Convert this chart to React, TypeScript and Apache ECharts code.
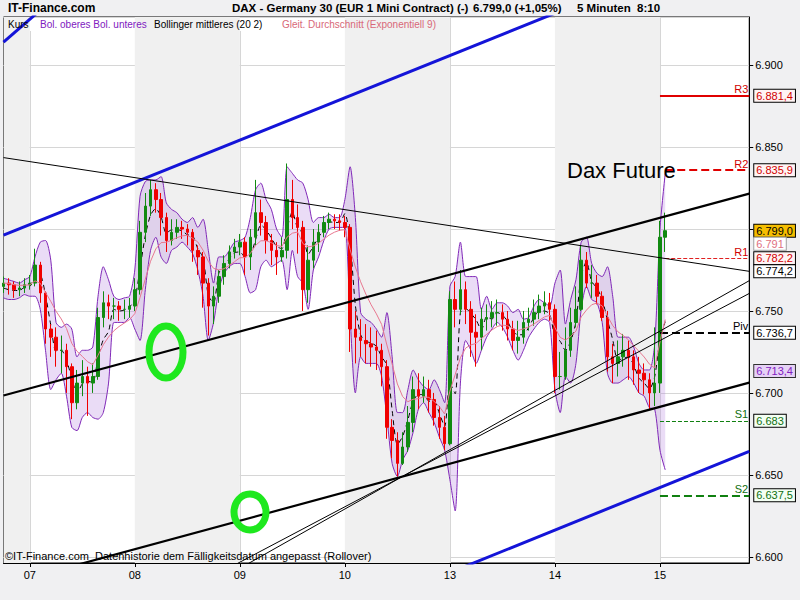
import React, { useEffect, useRef } from 'react';
import * as echarts from 'echarts';

// ---------- data ----------
const DAY_LABELS = ['07', '08', '09', '10', '13', '14', '15'];
const SHADED_DAYS = ['08', '10', '14'];
const N_SLOTS = 143;
const FIRST_DAY_SLOT = 5;
const SLOTS_PER_DAY = 20;
const FIRST_OPEN = 6765;

const CLOSES = [
  6767, 6766, 6763, 6764, 6766, 6767, 6778, 6761, 6739, 6734,
  6726, 6726, 6716, 6694, 6706, 6710, 6706, 6710, 6746, 6755,
  6753, 6753, 6751, 6751, 6753, 6763, 6798, 6814, 6824, 6818,
  6807, 6793, 6798, 6801, 6800, 6798, 6787, 6783, 6767, 6753,
  6759, 6771, 6779, 6786, 6789, 6792, 6783, 6795, 6810, 6804,
  6793, 6787, 6783, 6787, 6818, 6807, 6801, 6763, 6781, 6792,
  6798, 6804, 6806, 6805, 6804, 6801, 6739, 6734, 6732, 6730,
  6728, 6726, 6716, 6679, 6671, 6657, 6667, 6682, 6702, 6698,
  6702, 6696, 6685, 6679, 6669, 6757, 6751, 6763, 6751, 6737,
  6734, 6745, 6746, 6749, 6749, 6745, 6739, 6732, 6734, 6743,
  6745, 6749, 6753, 6755, 6751, 6710, 6710, 6726, 6743, 6751,
  6781, 6767, 6767, 6759, 6746, 6722, 6718, 6722, 6726, 6722,
  6714, 6712, 6708, 6700, 6706, 6795, 6799,
];
const HIGHS = [
  6771, 6770, 6768, 6768, 6770, 6772, 6788, 6780, 6762, 6742,
  6740, 6735, 6730, 6718, 6714, 6720, 6716, 6718, 6752, 6762,
  6760, 6758, 6756, 6757, 6758, 6770, 6805, 6822, 6830, 6828,
  6822, 6810, 6806, 6806, 6805, 6803, 6800, 6790, 6786, 6770,
  6765, 6775, 6784, 6790, 6794, 6797, 6795, 6800, 6830, 6818,
  6808, 6797, 6792, 6795, 6840, 6830, 6815, 6805, 6790, 6800,
  6803, 6808, 6810, 6809, 6809, 6808, 6803, 6750, 6745, 6742,
  6740, 6738, 6730, 6720, 6684, 6676, 6676, 6692, 6710, 6712,
  6710, 6708, 6700, 6692, 6686, 6762, 6768, 6775, 6768, 6756,
  6748, 6752, 6754, 6756, 6757, 6754, 6750, 6744, 6744, 6750,
  6752, 6757, 6760, 6762, 6761, 6754, 6725, 6740, 6752, 6765,
  6790, 6786, 6778, 6772, 6762, 6750, 6730, 6732, 6736, 6732,
  6726, 6722, 6718, 6712, 6740, 6805, 6810,
];
const LOWS = [
  6761, 6760, 6758, 6759, 6761, 6763, 6765, 6755, 6730, 6722,
  6716, 6712, 6700, 6684, 6690, 6698, 6686, 6700, 6708, 6740,
  6745, 6745, 6744, 6745, 6746, 6750, 6760, 6792, 6808, 6810,
  6796, 6786, 6790, 6794, 6794, 6790, 6780, 6772, 6752, 6735,
  6742, 6755, 6766, 6776, 6782, 6784, 6772, 6775, 6790, 6796,
  6785, 6778, 6772, 6780, 6782, 6800, 6785, 6750, 6755, 6776,
  6786, 6795, 6800, 6800, 6799, 6795, 6725, 6718, 6722, 6718,
  6716, 6714, 6704, 6672, 6660, 6649, 6656, 6664, 6676, 6690,
  6694, 6688, 6680, 6672, 6665, 6668, 6740, 6748, 6742, 6722,
  6716, 6726, 6738, 6740, 6741, 6738, 6732, 6726, 6724, 6730,
  6738, 6741, 6745, 6748, 6744, 6700, 6702, 6708, 6722, 6740,
  6750, 6764, 6758, 6754, 6744, 6713, 6706, 6710, 6716, 6708,
  6705, 6700, 6699, 6690, 6692, 6700, 6786,
];
const BB_UPPER = [
  6770, 6769, 6768, 6767, 6769, 6771, 6783, 6792, 6793, 6781,
  6743, 6740, 6742, 6739, 6722, 6726, 6726, 6728, 6759, 6777,
  6769, 6759, 6757, 6758, 6759, 6775, 6820, 6829, 6830, 6830,
  6832, 6816, 6812, 6810, 6806, 6804, 6807, 6801, 6806, 6787,
  6767, 6783, 6783, 6787, 6792, 6793, 6795, 6807, 6824, 6828,
  6818, 6812, 6800, 6795, 6838, 6834, 6830, 6828, 6818, 6804,
  6807, 6807, 6809, 6807, 6807, 6818, 6838, 6807, 6749, 6745,
  6743, 6739, 6734, 6749, 6722, 6688, 6688, 6702, 6714, 6708,
  6704, 6702, 6708, 6702, 6694, 6765, 6771, 6792, 6771, 6771,
  6771, 6751, 6759, 6751, 6755, 6755, 6753, 6749, 6751, 6745,
  6746, 6753, 6757, 6755, 6753, 6767, 6775, 6742, 6757, 6769,
  6792, 6795, 6779, 6773, 6771, 6777, 6759, 6734, 6734, 6734,
  6728, 6718, 6714, 6714, 6730, 6800, 6834,
];
const BB_LOWER = [
  6758, 6757, 6757, 6758, 6760, 6759, 6759, 6751, 6726, 6702,
  6708, 6712, 6698, 6679, 6677, 6685, 6688, 6685, 6684, 6688,
  6706, 6743, 6743, 6743, 6746, 6739, 6732, 6763, 6787, 6795,
  6783, 6779, 6787, 6789, 6792, 6789, 6785, 6775, 6759, 6732,
  6743, 6763, 6773, 6777, 6779, 6779, 6771, 6761, 6763, 6777,
  6781, 6777, 6779, 6781, 6763, 6787, 6771, 6767, 6751, 6775,
  6783, 6793, 6800, 6801, 6801, 6801, 6746, 6700, 6722, 6718,
  6718, 6718, 6710, 6685, 6657, 6649, 6659, 6665, 6676, 6690,
  6694, 6688, 6682, 6673, 6665, 6647, 6628, 6706, 6732, 6726,
  6718, 6726, 6734, 6739, 6743, 6740, 6734, 6726, 6720, 6726,
  6734, 6739, 6743, 6745, 6743, 6702, 6688, 6710, 6706, 6718,
  6751, 6765, 6757, 6755, 6743, 6712, 6706, 6706, 6708, 6710,
  6706, 6700, 6698, 6691, 6690, 6665, 6653,
];

// drawn trend lines: [slot, value] endpoints
const TREND_FROM = [[0, 6796.3], [0, 6914.1], [0, 6480.1], [0, 6843.6], [0, 6698.4], [0, 6582.9], [0, 6511.5], [0, 6520.6]];
const TREND_TO = [[142, 6979.4], [10, 6941.9], [142, 6664.3], [142, 6774.2], [142, 6821.6], [142, 6706.3], [142, 6768.5], [142, 6760.7]];
const TREND_COLORS = ['#1414D8', '#1414D8', '#1414D8', '#000000', '#000000', '#000000', '#000000', '#000000'];
const TREND_WIDTHS = [3, 3, 3, 1, 2.2, 2.2, 1, 1];

const PIVOT_NAMES = ['R3', 'R2', 'R1', 'Piv', 'S1', 'S2'];
const PIVOT_VALUES = [6881.4, 6835.9, 6782.2, 6736.7, 6683, 6637.5];
const PIVOT_LABELS = ['6.881,4', '6.835,9', '6.782,2', '6.736,7', '6.683', '6.637,5'];
const PIVOT_START = [125, 126, 126, 125, 125, 125];

const TAG_VALUES = [6799.0, 6791, 6774.2, 6713.4];
const TAG_LABELS = ['6.799,0', '6.791', '6.774,2', '6.713,4'];

const Y_MIN = 6596.2;
const Y_MAX = 6929.4;

// ---------- helpers ----------
function fmtDE(v: number, dec: number) {
  const fixed = v.toFixed(dec);
  const parts = fixed.split('.');
  const withSep = parts[0].replace(/\B(?=(\d{3})+(?!\d))/g, '.');
  return parts[1] ? withSep + ',' + parts[1] : withSep;
}

const isDaySlot = (i: number) => i >= FIRST_DAY_SLOT && (i - FIRST_DAY_SLOT) % SLOTS_PER_DAY === 0;

// axis labels covered by a price tag are not shown (as in the reference)
const coveredByTag = (v: number) =>
  [...TAG_VALUES, ...PIVOT_VALUES].some((t) => Math.abs(t - v) < 6);

export default function App() {
  const ref = useRef<HTMLDivElement>(null);

  useEffect(() => {
    if (!ref.current) return;
    const chart = echarts.init(ref.current, undefined, { renderer: 'svg' });

    const categories = Array.from({ length: N_SLOTS }, (_, i) => String(i));
    const candles = CLOSES.map((c, i) => {
      const o = i === 0 ? FIRST_OPEN : CLOSES[i - 1];
      return [o, c, LOWS[i], HIGHS[i]];
    });
    const bandDiff = BB_UPPER.map((u, i) => u - BB_LOWER[i]);
    const bandMid = BB_UPPER.map((u, i) => (u + BB_LOWER[i]) / 2);
    const ema: number[] = [];
    CLOSES.forEach((c, i) => {
      ema.push(i === 0 ? c : c * 0.2 + ema[i - 1] * 0.8);
    });

    const dayStart = (d: string) => FIRST_DAY_SLOT + DAY_LABELS.indexOf(d) * SLOTS_PER_DAY;
    const shaded: any[] = [[{ xAxis: 0 }, { xAxis: FIRST_DAY_SLOT }]];
    SHADED_DAYS.forEach((d) => {
      shaded.push([{ xAxis: dayStart(d) }, { xAxis: dayStart(d) + SLOTS_PER_DAY }]);
    });

    const pivotColors = ['#E00000', '#E00000', '#E02020', '#000000', '#108010', '#108010'];
    const pivotTypes: any[] = ['solid', 'dashed', 'dashed', 'dashed', 'dashed', 'dashed'];
    const pivotWidths = [2, 2, 1, 2, 1, 2];
    const pivotTextColors = ['#D00000', '#D00000', '#D00000', '#000000', '#107010', '#107010'];
    const pivotBg = ['#FFF4F4', '#FFF4F4', '#FFF4F4', '#FFFFFF', '#F4FFF4', '#F4FFF4'];

    const tagBox = (color: string, bg: string, border: string) => ({
      show: true,
      position: 'end',
      distance: 5,
      color,
      opacity: 1,
      backgroundColor: bg,
      borderColor: border,
      borderWidth: 1,
      padding: [1, 2, 0, 2],
      fontSize: 11,
      lineHeight: 11,
      fontFamily: 'Liberation Sans',
    });

    const markLineData: any[] = [];
    PIVOT_VALUES.forEach((v, k) => {
      markLineData.push([
        {
          coord: [PIVOT_START[k], v],
          lineStyle: { color: pivotColors[k], type: pivotTypes[k], width: pivotWidths[k] },
          label: {
            show: true,
            position: 'insideEndTop',
            formatter: PIVOT_NAMES[k],
            color: pivotTextColors[k],
            fontSize: 11,
            fontFamily: 'Liberation Sans',
            distance: 1,
          },
        },
        { coord: [N_SLOTS - 1, v] },
      ]);
    });
    const tagLines: any[] = [];
    PIVOT_VALUES.forEach((v, k) => {
      tagLines.push([
        {
          coord: [N_SLOTS - 2, v],
          lineStyle: { color: 'rgba(0,0,0,0)', width: 0 },
          label: { ...tagBox(pivotTextColors[k], pivotBg[k], '#000'), formatter: PIVOT_LABELS[k] },
        },
        { coord: [N_SLOTS - 1, v] },
      ]);
    });
    const tagStyles = [
      ['#000000', '#F5BE00', '#000000'],
      ['#E07080', '#FFFFFF', '#A0A0A0'],
      ['#000000', '#FFFFFF', '#000000'],
      ['#8020C0', '#E6D2F6', '#303030'],
    ];
    TAG_VALUES.forEach((v, k) => {
      tagLines.push([
        {
          coord: [N_SLOTS - 2, v],
          lineStyle: { color: 'rgba(0,0,0,0)', width: 0 },
          label: { ...tagBox(tagStyles[k][0], tagStyles[k][1], tagStyles[k][2]), formatter: TAG_LABELS[k] },
        },
        { coord: [N_SLOTS - 1, v] },
      ]);
    });

    const trendSeries = TREND_FROM.map((f, k) => ({
      type: 'line',
      data: [f, TREND_TO[k]],
      symbol: 'none',
      clip: true,
      silent: true,
      z: 6,
      lineStyle: { color: TREND_COLORS[k], width: TREND_WIDTHS[k] },
    }));

    const textFont = 'Liberation Sans';
    const gText = (text: string, x: number, y: number, fill: string, size: number, weight = 'normal', family = textFont) => ({
      type: 'text',
      x,
      y,
      z: 100,
      silent: true,
      style: { text, fill, fontSize: size, fontWeight: weight, fontFamily: family, align: 'left', verticalAlign: 'middle' },
    });

    const option: any = {
      animation: false,
      backgroundColor: '#F0F0F2',
      grid: {
        left: 3.5,
        right: 50.75,
        top: 17,
        bottom: 37,
        show: true,
        backgroundColor: '#FFFFFF',
        borderColor: '#000000',
        borderWidth: 1,
      },
      xAxis: {
        type: 'category',
        data: categories,
        boundaryGap: false,
        axisLine: { show: true, lineStyle: { color: '#000', width: 1 } },
        axisTick: { show: true, interval: (i: number) => isDaySlot(i), length: 4, lineStyle: { color: '#000' } },
        axisLabel: {
          show: true,
          interval: (i: number) => isDaySlot(i),
          formatter: (_v: string, i: number) => (isDaySlot(i) ? DAY_LABELS[(i - FIRST_DAY_SLOT) / SLOTS_PER_DAY] : ''),
          color: '#000',
          fontSize: 11,
          fontFamily: textFont,
          margin: 6,
        },
        splitLine: { show: true, interval: (i: number) => isDaySlot(i), lineStyle: { color: '#D6D6D6', width: 1 } },
      },
      yAxis: {
        type: 'value',
        position: 'right',
        min: Y_MIN,
        max: Y_MAX,
        splitNumber: 7,
        scale: true,
        axisLine: { show: true, lineStyle: { color: '#000', width: 1 } },
        axisTick: { show: true, length: 4, lineStyle: { color: '#000' } },
        axisLabel: {
          color: '#000',
          fontSize: 11,
          fontFamily: textFont,
          margin: 6,
          showMinLabel: false,
          showMaxLabel: false,
          formatter: (v: number) =>
            Math.abs(v - Math.round(v / 50) * 50) < 0.01 && !coveredByTag(v) ? fmtDE(v, 0) : '',
        },
        splitLine: { show: true, lineStyle: { color: '#D6D6D6', width: 1 } },
      },
      series: [
        {
          type: 'line',
          data: categories.map(() => null),
          symbol: 'none',
          silent: true,
          z: 1,
          markArea: { silent: true, itemStyle: { color: '#F0F0F0' }, data: shaded },
        },
        {
          type: 'line',
          data: BB_LOWER,
          stack: 'bb',
          symbol: 'none',
          smooth: 0.25,
          silent: true,
          z: 2,
          lineStyle: { color: '#8028B8', width: 1 },
        },
        {
          type: 'line',
          data: bandDiff,
          stack: 'bb',
          symbol: 'none',
          smooth: 0.25,
          silent: true,
          z: 2,
          lineStyle: { color: '#8028B8', width: 1 },
          areaStyle: { color: 'rgba(176,124,220,0.38)', origin: 'auto' },
        },
        {
          type: 'line',
          data: bandMid,
          symbol: 'none',
          smooth: 0.25,
          silent: true,
          z: 3,
          lineStyle: { color: '#000', width: 1, type: [5, 4] },
        },
        {
          type: 'candlestick',
          data: candles,
          barWidth: 3,
          silent: true,
          z: 4,
          itemStyle: { color: '#118A11', color0: '#F00000', borderColor: '#118A11', borderColor0: '#F00000', borderWidth: 1 },
        },
        {
          type: 'line',
          data: ema,
          symbol: 'none',
          silent: true,
          z: 5,
          lineStyle: { color: '#E87890', width: 1 },
        },
        ...trendSeries,
        {
          type: 'line',
          data: categories.map(() => null),
          symbol: 'none',
          silent: true,
          z: 8,
          markLine: { silent: true, symbol: ['none', 'none'], data: markLineData },
        },
        {
          type: 'line',
          data: categories.map(() => null),
          symbol: 'none',
          silent: true,
          clip: false,
          z: 9,
          markLine: { silent: true, symbol: ['none', 'none'], data: tagLines },
        },
      ],
      graphic: [
        { type: 'rect', z: 1, silent: true, shape: { x: 4, y: 18, width: 446, height: 13 }, style: { fill: '#FFFFFF' } },
        gText('IT-Finance.com', 8, 8, '#000', 12, 'bold'),
        gText('DAX - Germany 30 (EUR 1 Mini Contract) (-)', 232, 8, '#000', 11.5, 'bold'),
        gText('6.799,0 (+1,05%)', 473, 8, '#000', 11.5, 'bold'),
        gText('5 Minuten  8:10', 577, 8, '#000', 11.5, 'bold'),
        gText('Kurs', 8, 24, '#000', 10),
        gText('Bol. oberes Bol. unteres', 40, 24, '#8020C0', 10),
        gText('Bollinger mittleres (20 2)', 154, 24, '#000', 10),
        gText('Gleit. Durchschnitt (Exponentiell 9)', 282, 24, '#D86878', 10),
        gText('Dax Future', 567, 170, '#000', 22),
        gText('\u00A9IT-Finance.com  Datenhistorie dem F\u00E4lligkeitsdatum angepasst (Rollover)', 5, 556, '#000', 11),
        { type: 'ellipse', z: 100, silent: true, shape: { cx: 166, cy: 352, rx: 17, ry: 26 }, style: { fill: 'none', stroke: '#1EE81E', lineWidth: 7 } },
        { type: 'ellipse', z: 100, silent: true, shape: { cx: 250, cy: 512, rx: 16, ry: 18 }, style: { fill: 'none', stroke: '#1EE81E', lineWidth: 7 } },
      ],
    };

    chart.setOption(option);
    return () => chart.dispose();
  }, []);

  return <div ref={ref} style={{ position: 'fixed', left: 0, top: 0, width: 800, height: 600 }} />;
}
